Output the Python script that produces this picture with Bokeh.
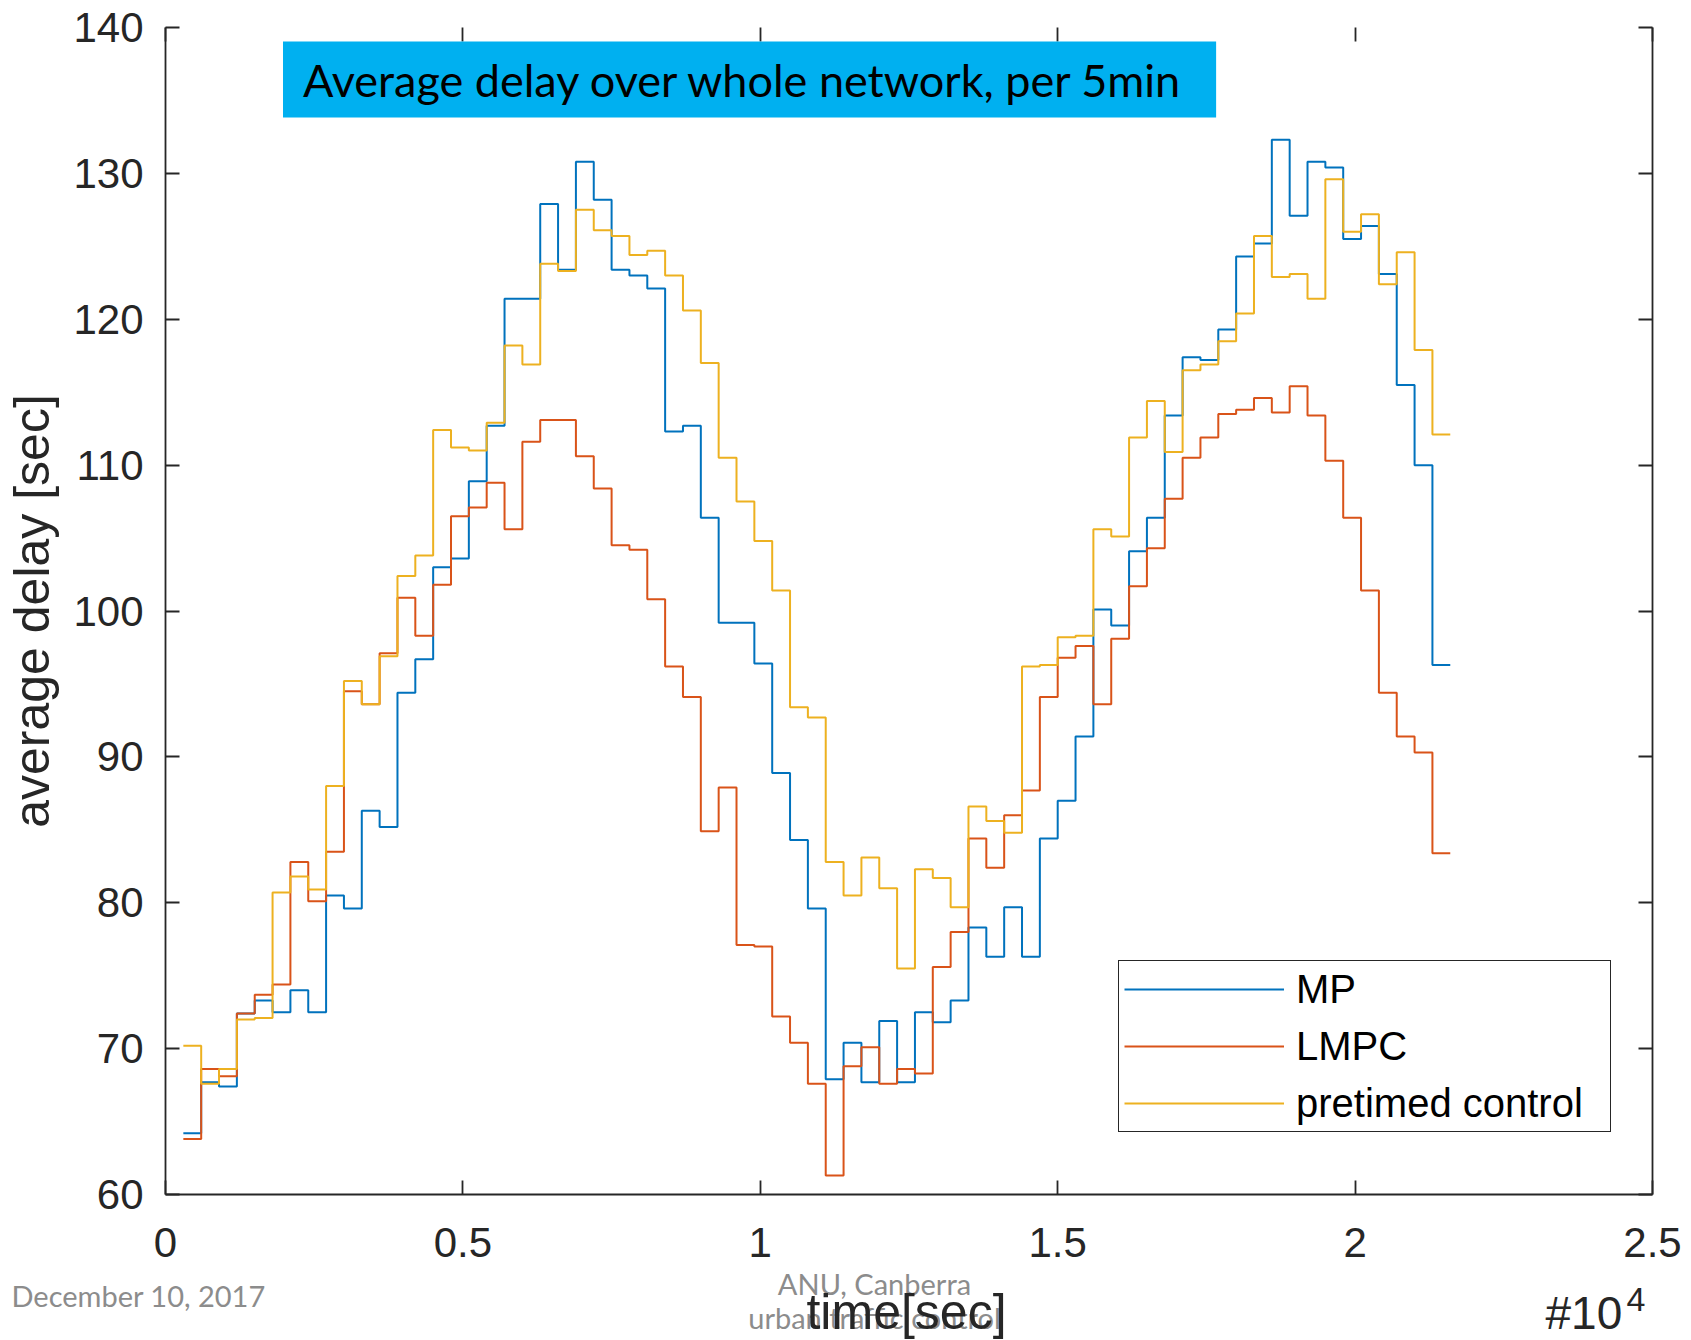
import numpy as np
from bokeh.plotting import figure
from bokeh.layouts import column
from bokeh.models import (LinearAxis, Legend, LegendItem, Label, FixedTicker, Range1d)
from bokeh.embed import file_html
from bokeh.resources import INLINE

# ---- data (average delay per 5-min bin, seconds) ----
bin_width = 300
t_start = np.arange(300, 21600, bin_width)          # 71 bins, 300 .. 21300 s

mp = [64.2, 67.7, 67.4, 72.4, 73.3, 72.5, 74.0, 72.5, 80.5, 79.6,
      86.3, 85.2, 94.4, 96.7, 103.0, 103.6, 108.9, 112.7, 121.4, 121.4,
      127.9, 123.4, 130.8, 128.2, 123.4, 123.0, 122.1, 112.3, 112.7, 106.4,
      99.2, 99.2, 96.4, 88.9, 84.3, 79.6, 67.9, 70.4, 67.7, 71.9,
      67.7, 72.5, 71.8, 73.3, 78.3, 76.3, 79.7, 76.3, 84.4, 87.0,
      91.4, 100.1, 99.0, 104.1, 106.4, 113.4, 117.4, 117.2, 119.3, 124.3,
      125.2, 132.3, 127.1, 130.8, 130.4, 125.5, 126.4, 123.1, 115.5, 110.0,
      96.3]

lmpc = [63.8, 68.6, 68.1, 72.4, 73.7, 74.4, 82.8, 80.1, 83.5, 94.5,
        93.6, 97.1, 100.9, 98.3, 101.8, 106.5, 107.1, 108.8, 105.6, 111.6,
        113.1, 113.1, 110.6, 108.4, 104.5, 104.2, 100.8, 96.2, 94.1, 84.9,
        87.9, 77.1, 77.0, 72.2, 70.4, 67.6, 61.3, 68.8, 70.1, 67.6,
        68.6, 68.3, 75.6, 78.0, 84.4, 82.4, 86.0, 87.7, 94.1, 96.8,
        97.6, 93.6, 98.1, 101.7, 104.3, 107.7, 110.5, 111.9, 113.5, 113.8,
        114.6, 113.6, 115.4, 113.4, 110.3, 106.4, 101.4, 94.4, 91.4, 90.3,
        83.4]

pretimed = [70.2, 67.6, 68.6, 72.0, 72.1, 80.7, 81.8, 80.9, 88.0, 95.2,
            93.6, 96.9, 102.4, 103.8, 112.4, 111.2, 111.0, 112.9, 118.2, 116.9,
            123.8, 123.3, 127.5, 126.1, 125.7, 124.4, 124.7, 123.0, 120.6, 117.0,
            110.5, 107.5, 104.8, 101.4, 93.4, 92.7, 82.8, 80.5, 83.1, 81.0,
            75.5, 82.3, 81.7, 79.7, 86.6, 85.6, 84.8, 96.2, 96.3, 98.2,
            98.3, 105.6, 105.1, 111.9, 114.4, 110.9, 116.5, 116.9, 118.5, 120.4,
            125.7, 122.9, 123.1, 121.4, 129.6, 126.0, 127.2, 122.4, 124.6, 117.9,
            112.1]

series_names = ["MP", "LMPC", "pretimed control"]
series_colors = ["#0072BD", "#D95319", "#EDB120"]

x_ticks = [0, 5000, 10000, 15000, 20000, 25000]
x_tick_labels = ["0", "0.5", "1", "1.5", "2", "2.5"]
y_ticks = [60, 70, 80, 90, 100, 110, 120, 130, 140]

AX = "#262626"
GRAY = "#8c8c8c"
W = 1690

# ---------------- header rule (slide decoration): a thin dark frame ----------------
header = figure(width=W, height=3, output_backend="svg", toolbar_location=None,
                title=None, x_range=Range1d(0, 1), y_range=Range1d(0, 1),
                x_axis_location=None, y_axis_location=None,
                min_border_left=150, min_border_right=W - 1637,
                min_border_top=0, min_border_bottom=0)
header.outline_line_color = "#4a4a4a"
header.outline_line_width = 1
header.grid.visible = False
header.background_fill_color = "#4a4a4a"
header.border_fill_color = "white"
header.frame_align = False

# ---------------- main chart ----------------
p = figure(width=W, height=1262, output_backend="svg", toolbar_location=None,
           x_range=Range1d(0, 25000), y_range=Range1d(60, 140),
           min_border_left=165, min_border_right=W - 1652, min_border_top=24,
           min_border_bottom=71)
p.frame_align = False
p.outline_line_color = None
p.xgrid.visible = False
p.ygrid.visible = False
p.background_fill_color = "white"
p.border_fill_color = "white"

x_edges = list(t_start) + [int(t_start[-1]) + bin_width]
renderers = []
for vals, col in zip([mp, lmpc, pretimed], series_colors):
    r = p.step(x_edges, list(vals) + [vals[-1]], mode="after",
               line_color=col, line_width=2)
    renderers.append(r)

bottom = p.below[0]
left = p.left[0]
top = LinearAxis()
right = LinearAxis()
p.add_layout(top, "above")
p.add_layout(right, "right")

def style(ax, ticks, show_line=True, show_labels=True):
    ax.ticker = FixedTicker(ticks=ticks)
    ax.major_tick_in = 14
    ax.major_tick_out = 0
    ax.minor_tick_line_color = None
    ax.major_tick_line_color = AX
    ax.major_tick_line_width = 1.8
    ax.axis_line_color = AX if show_line else None
    ax.axis_line_width = 1.8
    if show_labels:
        ax.major_label_text_font = "Liberation Sans"
        ax.major_label_text_font_size = "42px"
        ax.major_label_text_color = AX
    else:
        ax.major_label_overrides = {t: "" for t in ticks}
        ax.major_label_text_color = None
        ax.major_label_standoff = 0

style(bottom, x_ticks)
bottom.major_label_overrides = {t: l for t, l in zip(x_ticks, x_tick_labels)}
bottom.major_label_standoff = 33
style(left, y_ticks)
left.major_label_standoff = 22
left.axis_label = "average delay [sec]"
left.axis_label_text_font = "Liberation Sans"
left.axis_label_text_font_size = "50px"
left.axis_label_text_font_style = "normal"
left.axis_label_text_color = AX
left.axis_label_standoff = 10
style(top, x_ticks, show_line=False, show_labels=False)
style(right, y_ticks, show_labels=False)

legend = Legend(items=[LegendItem(label=n, renderers=[r]) for n, r in zip(series_names, renderers)],
                location=(953, 62), padding=5, margin=0, spacing=11,
                glyph_width=160, glyph_height=46, label_height=46, label_width=309,
                label_standoff=12, label_text_font="Liberation Sans",
                label_text_font_size="40px", label_text_color="black",
                border_line_color=AX, border_line_width=1.5, border_line_alpha=1.0,
                background_fill_color="white", background_fill_alpha=1.0)
p.add_layout(legend)

p.add_layout(Label(x=117.5, y=1115, x_units="screen", y_units="screen",
                   text="Average delay over whole network, per 5min",
                   text_align="left", text_baseline="middle",
                   text_font="Lato", text_font_size="45px", text_color="black",
                   background_fill_color="#00B0F0", background_fill_alpha=1.0,
                   padding=dict(left=20, right=32, top=11, bottom=11)))

# ---------------- footer strip (x title, exponent, slide footer) ----------------
footer = figure(width=W, height=75, output_backend="svg", toolbar_location=None,
                title=None, x_range=Range1d(0, 1), y_range=Range1d(0, 1),
                x_axis_location=None, y_axis_location=None,
                min_border_left=0, min_border_right=0, min_border_top=0, min_border_bottom=0)
footer.outline_line_color = None
footer.grid.visible = False
footer.frame_align = False

def flabel(x, y, text, size, font, color, align="left"):
    footer.add_layout(Label(x=x, y=y, x_units="screen", y_units="screen", text=text,
                            text_align=align, text_baseline="middle",
                            text_font=font, text_font_size=size, text_color=color))

flabel(874, 57, "ANU, Canberra", "29px", "Lato", GRAY, "center")
flabel(11, 45, "December 10, 2017", "29px", "Lato", GRAY)
flabel(874, 23.5, "urban traffic control", "29px", "Lato", GRAY, "center")
flabel(906, 29, "time[sec]", "50px", "Liberation Sans", AX, "center")
flabel(1545, 28, "#10", "46px", "Liberation Sans", AX)
flabel(1626, 41, "4", "34px", "Liberation Sans", AX)

layout = column(header, p, footer, spacing=0)
open("out.html", "w").write(file_html(layout, INLINE))
